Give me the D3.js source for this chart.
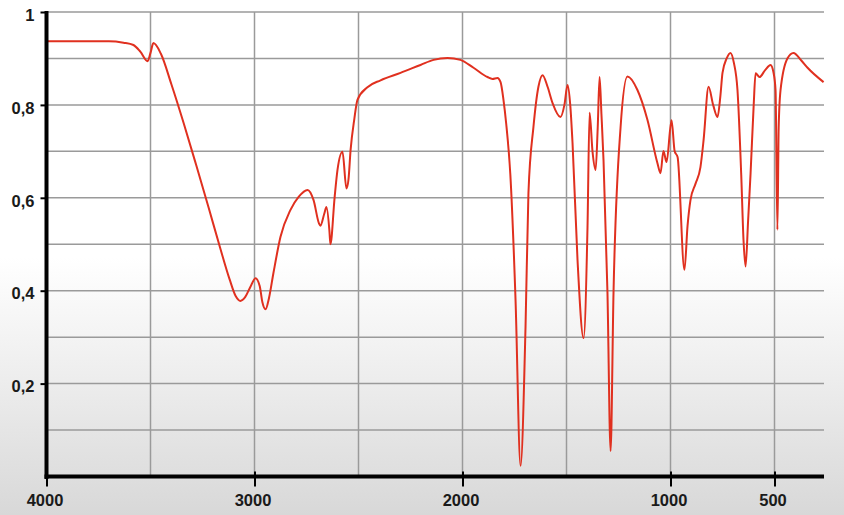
<!DOCTYPE html>
<html>
<head>
<meta charset="utf-8">
<script src="https://cdn.jsdelivr.net/npm/d3@7"></script>
<style>
  html, body { margin: 0; padding: 0; background: #fff; }
  svg { display: block; }
</style>
</head>
<body>
<svg id="chart" width="844" height="515"></svg>
<script>
// Wavenumber (cm-1) of each sample point, from 4000 down to ~264
const wavenumbers = [
  4000, 3800, 3700, 3630, 3582, 3548, 3514, 3500, 3486, 3450, 3400, 3340, 3280, 3220, 3165, 3120,
  3090, 3068, 3045, 3020, 2995, 2975, 2962, 2947, 2930, 2909, 2875, 2827, 2788, 2745,
  2716, 2690, 2683, 2665, 2654, 2640, 2635, 2615, 2601, 2577, 2558, 2548, 2538, 2520, 2505, 2457,
  2394, 2298, 2202, 2139, 2072, 2010, 1947, 1880, 1856, 1832, 1817, 1803, 1790, 1770, 1745, 1721,
  1697, 1683, 1659, 1635, 1615, 1591, 1567, 1529, 1510, 1495, 1482, 1471, 1447, 1418, 1399, 1389,
  1375, 1360, 1350, 1341, 1332, 1322, 1303, 1288, 1274, 1240, 1207, 1159, 1111, 1063, 1048, 1034,
  1019, 995, 980, 966, 933, 918, 904, 880, 856, 841, 817, 795, 774, 760, 750, 730,
  712, 695, 678, 660, 649, 639, 627, 615, 600, 591, 572, 545, 519, 505, 495, 486,
  480, 471, 438, 409, 370, 341, 264
];
// Transmittance at each wavenumber
const transmittance = [
  0.937, 0.937, 0.937, 0.934, 0.929, 0.914, 0.894, 0.912, 0.933, 0.910, 0.845, 0.760, 0.670, 0.578, 0.492, 0.425,
  0.388, 0.378, 0.386, 0.408, 0.427, 0.410, 0.375, 0.360, 0.385, 0.438, 0.516, 0.574, 0.602, 0.617,
  0.595, 0.545, 0.540, 0.565, 0.580, 0.530, 0.500, 0.600, 0.660, 0.699, 0.620, 0.640, 0.703, 0.770, 0.811, 0.838,
  0.853, 0.869, 0.886, 0.897, 0.901, 0.897, 0.880, 0.860, 0.856, 0.858, 0.849, 0.811, 0.760, 0.650, 0.380, 0.023,
  0.322, 0.610, 0.752, 0.839, 0.864, 0.839, 0.804, 0.774, 0.800, 0.843, 0.800, 0.718, 0.466, 0.298, 0.537, 0.783,
  0.700, 0.660, 0.750, 0.860, 0.780, 0.681, 0.395, 0.055, 0.395, 0.752, 0.861, 0.832, 0.768, 0.675, 0.653, 0.701,
  0.677, 0.767, 0.700, 0.688, 0.445, 0.540, 0.595, 0.630, 0.666, 0.724, 0.839, 0.800, 0.774, 0.820, 0.869, 0.900,
  0.912, 0.890, 0.832, 0.650, 0.509, 0.452, 0.550, 0.653, 0.800, 0.868, 0.860, 0.875, 0.886, 0.870, 0.832, 0.531,
  0.750, 0.832, 0.900, 0.912, 0.895, 0.880, 0.849
];
const xTickValues = [4000, 3000, 2000, 1000, 500];
const xGridValues = [3500, 3000, 2500, 2000, 1500, 1000, 500];
const yTickValues = [0.2, 0.4, 0.6, 0.8, 1];
const yGridValues = [0.1, 0.2, 0.3, 0.4, 0.5, 0.6, 0.7, 0.8, 0.9, 1];

const W = 844, H = 515;
const plotLeft = 46.5, plotRight = 824, plotTop = 12, plotBottom = 476.5;

const svg = d3.select("#chart");

// Background gradient
const defs = svg.append("defs");
const grad = defs.append("linearGradient").attr("id", "bg").attr("x1", 0).attr("y1", 0).attr("x2", 0).attr("y2", 1);
grad.append("stop").attr("offset", "0%").attr("stop-color", "#ffffff");
grad.append("stop").attr("offset", "50%").attr("stop-color", "#ffffff");
grad.append("stop").attr("offset", "75%").attr("stop-color", "#ececec");
grad.append("stop").attr("offset", "100%").attr("stop-color", "#d8d8d8");
svg.append("rect").attr("width", W).attr("height", H).attr("fill", "url(#bg)");

const x = d3.scaleLinear().domain([4000, 4000 - (plotRight - plotLeft) / 0.208]).range([plotLeft, plotRight]);
const y = d3.scaleLinear().domain([0, 1]).range([plotBottom, plotTop]);

// Grid
const grid = svg.append("g");
grid.selectAll("line.h").data(yGridValues).join("line").attr("class", "h")
  .attr("x1", plotLeft).attr("x2", plotRight)
  .attr("y1", d => y(d)).attr("y2", d => y(d))
  .attr("stroke", "#9a9a9a").attr("stroke-width", 1.5);
grid.selectAll("line.v").data(xGridValues).join("line").attr("class", "v")
  .attr("x1", d => x(d)).attr("x2", d => x(d))
  .attr("y1", plotTop).attr("y2", plotBottom)
  .attr("stroke", "#9a9a9a").attr("stroke-width", 1.5);

// Spectrum line
const pts = wavenumbers.map((w, i) => [w, transmittance[i]]);
const line = d3.line().x(d => x(d[0])).y(d => y(d[1])).curve(d3.curveMonotoneX);
svg.append("path").datum(pts)
  .attr("d", line)
  .attr("fill", "none")
  .attr("stroke", "#e0301f")
  .attr("stroke-width", 2)
  .attr("stroke-linejoin", "round");

// Y axis
const yAxis = d3.axisLeft(y).tickValues(yTickValues).tickSize(6).tickSizeOuter(0)
  .tickFormat(d => d === 1 ? "1" : d3.format(".1f")(d).replace(".", ","));
const gy = svg.append("g").attr("transform", `translate(${plotLeft},0)`).call(yAxis);
gy.select(".domain").attr("stroke", "#000").attr("stroke-width", 4)
  .attr("d", `M0,${plotTop - 1}V${plotBottom + 2.5}`);
gy.selectAll(".tick line").attr("stroke", "#000").attr("stroke-width", 2);
gy.selectAll(".tick text")
  .attr("x", -12).attr("dy", "0.5em")
  .attr("fill", "#1a1a1a")
  .style("font-family", "'Liberation Sans', Arial, sans-serif")
  .style("font-weight", "bold").style("font-size", "16.5px");

// X axis
const xAxis = d3.axisBottom(x).tickValues(xTickValues).tickSize(10).tickSizeOuter(0)
  .tickFormat(d3.format("d"));
const gx = svg.append("g").attr("transform", `translate(0,${plotBottom})`).call(xAxis);
gx.select(".domain").attr("stroke", "#000").attr("stroke-width", 4)
  .attr("d", `M${plotLeft - 2},0H${plotRight}`);
gx.selectAll(".tick line").attr("stroke", "#000").attr("stroke-width", 2).attr("y1", -5);
gx.selectAll(".tick text")
  .attr("y", 29).attr("dy", 0).attr("dx", -2)
  .attr("fill", "#1a1a1a")
  .style("font-family", "'Liberation Sans', Arial, sans-serif")
  .style("font-weight", "bold").style("font-size", "16.5px");
</script>
</body>
</html>
